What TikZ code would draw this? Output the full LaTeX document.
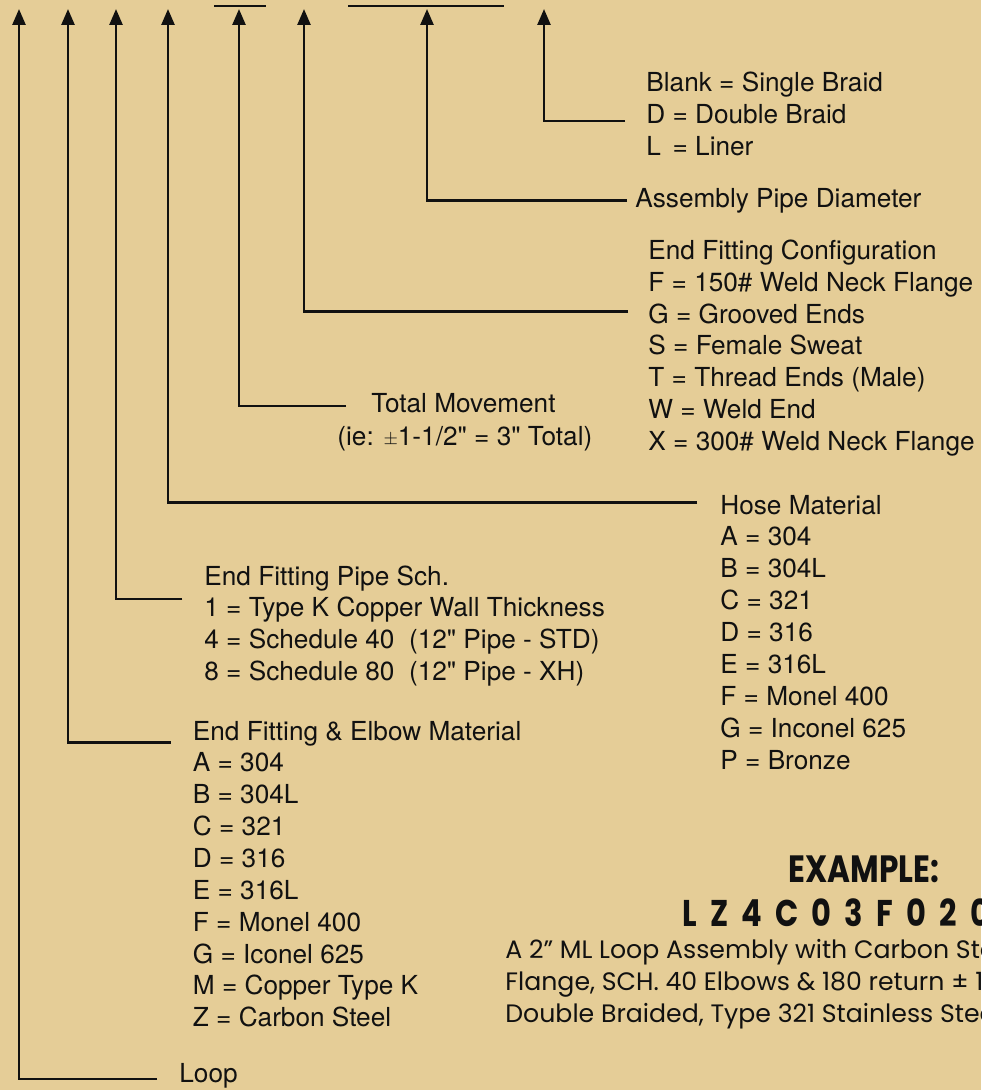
\documentclass[tikz,border=0pt]{standalone}
\usepackage{fontspec}
\setmainfont{TeX Gyre Heros}[Ligatures=TeXOff]
\newfontfamily\examplefont{Poppins}
\newfontfamily\examplecond{Poppins}[FakeStretch=0.82]
\usetikzlibrary{arrows.meta}
\definecolor{chartbg}{RGB}{229,205,151}
\definecolor{ink}{RGB}{17,17,17}
\tikzset{
  pointer/.style={-{Triangle[length=8pt,width=6.5pt]},line width=1.3pt,draw=ink},
  entry/.style={anchor=base west,inner sep=0pt,text=ink,font=\fontsize{13.1}{15.9}\selectfont},
  example/.style={anchor=base west,inner sep=0pt,text=ink}
}
\begin{document}
\begin{tikzpicture}[x=0.5pt,y=-0.5pt]
  \fill[chartbg] (0,0) rectangle (981,1090);
  \useasboundingbox (0,0) rectangle (981,1090);
  \clip (0,0) rectangle (981,1090);

  % arrow tips along the top
  \coordinate (tip1) at (19,9);
  \coordinate (tip2) at (68,9);
  \coordinate (tip3) at (116,9);
  \coordinate (tip4) at (168,9);
  \coordinate (tip5) at (239,9);
  \coordinate (tip6) at (304,9);
  \coordinate (tip7) at (427,9);
  \coordinate (tip8) at (544,9);
  \draw[line width=1.25pt,ink] (214,6) -- (266,6);
  \draw[line width=1.25pt,ink] (348,6) -- (504,6);

  % braid
  \node[entry] (braid1) at (646,92) {Blank = Single Braid};
  \node[entry] (braid2) at (646,124) {D = Double Braid};
  \node[entry] (braid3) at (646,156) {L\hspace{2.2pt} = Liner};
  \node[entry] (pipedia) at (635,208) {Assembly Pipe Diameter};

  % end fittings
  \foreach \txt [count=\i from 0] in {End Fitting Configuration,F = 150\# Weld Neck Flange,
      G = Grooved Ends,S = Female Sweat,T = Thread Ends (Male),W = Weld End,X = 300\# Weld Neck Flange}
    \node[entry] (config-\i) at (648,259.3+31.9*\i) {\txt};
  \node[entry] (move1) at (371,413) {Total Movement};
  \node[entry] (move2) at (337,445) {(ie: \raisebox{0.4pt}{\small$\pm$}1-1/2" = 3" Total)};

  % hose
  \foreach \txt [count=\i from 0] in {Hose Material,A = 304,B = 304L,C = 321,D = 316,E = 316L,
      F = Monel 400,G = Inconel 625,P = Bronze}
    \node[entry] (hose-\i) at (720,514+31.9*\i) {\txt};

  % schedule
  \foreach \txt [count=\i from 0] in {End Fitting Pipe Sch.,1 = Type K Copper Wall Thickness,
      4 = Schedule 40\ \ (12" Pipe - STD),8 = Schedule 80\ \ (12" Pipe - XH)}
    \node[entry] (sch-\i) at (204,585+31.7*\i) {\txt};

  % elbow material
  \foreach \txt [count=\i from 0] in {End Fitting \& Elbow Material,A = 304,B = 304L,C = 321,D = 316,
      E = 316L,F = Monel 400,G = Iconel 625,M = Copper Type K,Z = Carbon Steel}
    \node[entry] (elbow-\i) at (192.5,740+31.86*\i) {\txt};
  \node[entry] (loop) at (179,1082) {Loop};

  % leaders
  \draw[pointer] ([shift={(-21,-3)}]braid2.base west) -| (tip8);
  \draw[pointer] ([shift={(-8,-7.7)}]pipedia.base west) -| (tip7);
  \draw[pointer] ([shift={(-20,-11.4)}]config-2.base west) -| (tip6);
  \draw[pointer] ([shift={(-25,-7)}]move1.base west) -| (tip5);
  \draw[pointer] ([shift={(-23,-11.3)}]hose-0.base west) -| (tip4);
  \draw[pointer] ([shift={(-21.6,14)}]sch-0.base west) -| (tip3);
  \draw[pointer] ([shift={(-22,2.7)}]elbow-0.base west) -| (tip2);
  \draw[pointer] ([shift={(-22,-3)}]loop.base west) -| (tip1);

  % example
  \node[example,font=\examplecond\bfseries\fontsize{19}{19}\selectfont] (exhead) at (788,882) {EXAMPLE:};
  \node[example,font=\examplecond\bfseries\fontsize{18.6}{18.6}\selectfont] (excode) at (682,926)
    {\spaceskip=6.6pt\relax L Z 4 C 0 3 F 0 2 0 D};
  \node[example,font=\examplefont\fontsize{12.6}{16}\selectfont] (exline1) at (505,958) {A 2” ML Loop Assembly with Carbon Steel};
  \node[example,font=\examplefont\fontsize{12.6}{16}\selectfont] (exline2) at (505,990) {Flange, SCH. 40 Elbows \& 180 return ± 1};
  \node[example,font=\examplefont\fontsize{12.6}{16}\selectfont] (exline3) at (505,1022) {Double Braided, Type 321 Stainless Steel};
\end{tikzpicture}
\end{document}
